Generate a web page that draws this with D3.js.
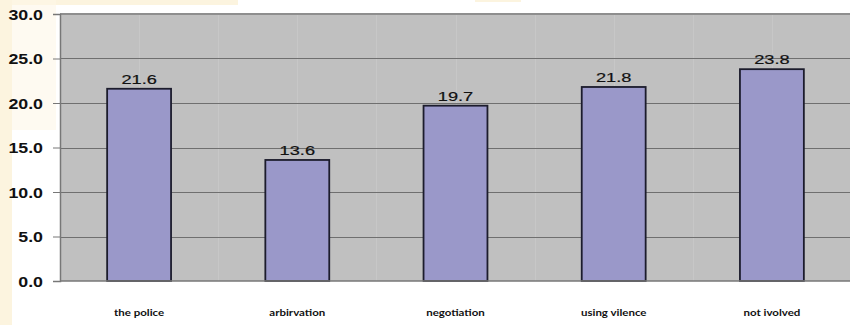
<!DOCTYPE html>
<html>
<head>
<meta charset="utf-8">
<script src="https://cdn.jsdelivr.net/npm/d3@7/dist/d3.min.js"></script>
<style>
  html, body { margin: 0; padding: 0; background: #ffffff; }
  svg { display: block; }
</style>
</head>
<body>
<svg id="chart" width="850" height="325"></svg>
<script>
// Responses per way of handling a conflict (%)
const categories = ["the police", "arbirvation", "negotiation", "using vilence", "not ivolved"];
const values = [21.6, 13.6, 19.7, 21.8, 23.8];
const yTicks = [0, 5, 10, 15, 20, 25, 30];

const W = 850, H = 325;
const plot = { left: 60, right: 851, top: 14, bottom: 281 };

const svg = d3.select("#chart");

// page background: cream margin on the left and a cream strip along the top
const deco = svg.append("g");
deco.append("rect").attr("x", 0).attr("y", 0).attr("width", W).attr("height", H).attr("fill", "#ffffff");
deco.append("rect").attr("x", 0).attr("y", 0).attr("width", 12).attr("height", H).attr("fill", "#fcf4df");
deco.append("rect").attr("x", 0).attr("y", 0).attr("width", 238).attr("height", 5).attr("fill", "#fcf4df");
deco.append("rect").attr("x", 475).attr("y", 0).attr("width", 46).attr("height", 2).attr("fill", "#fcf4df");
deco.append("rect").attr("x", 12).attr("y", 0).attr("width", 44).attr("height", 130).attr("fill", "#fdf7e8").attr("opacity", 0.6);

const x = d3.scaleBand()
  .domain(categories)
  .range([plot.left, plot.right])
  .paddingInner(0.596)
  .paddingOuter(0.298);

const y = d3.scaleLinear()
  .domain([0, 30])
  .range([plot.bottom, plot.top]);

// plot area
svg.append("rect")
  .attr("x", plot.left).attr("y", plot.top)
  .attr("width", plot.right - plot.left).attr("height", plot.bottom - plot.top)
  .attr("fill", "#c0c0c0");

// faint vertical seams at band centres and band edges
const step = x.step();
const seams = [];
categories.forEach(c => {
  seams.push(x(c) + x.bandwidth() / 2);
  seams.push(x(c) + x.bandwidth() / 2 + step / 2);
});
svg.append("g").selectAll("line").data(seams.filter(s => s < plot.right - 2)).join("line")
  .attr("x1", d => Math.round(d) + 0.5).attr("x2", d => Math.round(d) + 0.5)
  .attr("y1", plot.top).attr("y2", plot.bottom)
  .attr("stroke", "#c7c7c7").attr("stroke-width", 1);

// horizontal gridlines
svg.append("g").selectAll("line").data(yTicks.filter(t => t > 0 && t < 30)).join("line")
  .attr("x1", plot.left).attr("x2", plot.right)
  .attr("y1", d => Math.round(y(d)) + 0.5).attr("y2", d => Math.round(y(d)) + 0.5)
  .attr("stroke", "#6f6f6f").attr("stroke-width", 1);

// top frame line
svg.append("line")
  .attr("x1", plot.left).attr("x2", plot.right)
  .attr("y1", plot.top).attr("y2", plot.top)
  .attr("stroke", "#8e8e8e").attr("stroke-width", 2);

// y axis
const yAxis = d3.axisLeft(y).tickValues(yTicks).tickSize(7).tickFormat(d3.format(".1f"));
const ya = svg.append("g")
  .attr("transform", `translate(${plot.left},0)`)
  .call(yAxis);
ya.select(".domain").attr("stroke", "#777777").attr("stroke-width", 1.5);
ya.selectAll(".tick line").attr("stroke", "#777777");
ya.selectAll(".tick text").each(function () {
  const t = d3.select(this);
  const txt = t.text();
  const g = d3.select(this.parentNode).append("g")
    .attr("transform", `translate(-17,0) scale(1.27,1)`);
  g.append("text")
    .attr("x", 0).attr("dy", "0.36em")
    .attr("text-anchor", "end")
    .attr("font-family", "'Liberation Sans', Arial, sans-serif")
    .attr("font-weight", "bold")
    .attr("font-size", 14)
    .attr("fill", "#111111")
    .text(txt);
  t.remove();
});

// bars
svg.append("g").selectAll("rect").data(values).join("rect")
  .attr("x", (d, i) => x(categories[i]))
  .attr("y", d => y(d))
  .attr("width", x.bandwidth())
  .attr("height", d => y(0) - y(d))
  .attr("fill", "#9a98c9")
  .attr("stroke", "#1c1c2c")
  .attr("stroke-width", 1.8);

// baseline
svg.append("line")
  .attr("x1", plot.left).attr("x2", plot.right)
  .attr("y1", plot.bottom).attr("y2", plot.bottom)
  .attr("stroke", "#777777").attr("stroke-width", 1.5);

// value labels
const fmt = d3.format(".1f");
svg.append("g").selectAll("g").data(values).join("g")
  .attr("transform", (d, i) => `translate(${x(categories[i]) + x.bandwidth() / 2},${y(d) - 5}) scale(1.4,1)`)
  .append("text")
  .attr("text-anchor", "middle")
  .attr("font-family", "'Liberation Sans', Arial, sans-serif")
  .attr("font-size", 13)
  .attr("fill", "#111111")
  .attr("stroke", "#111111")
  .attr("stroke-width", 0.2)
  .text(d => fmt(d));

// category labels
svg.append("g").selectAll("g").data(categories).join("g")
  .attr("transform", d => `translate(${x(d) + x.bandwidth() / 2},${316}) scale(1.15,1)`)
  .append("text")
  .attr("text-anchor", "middle")
  .attr("font-family", "Lato, 'Open Sans', sans-serif")
  .attr("font-weight", "bold")
  .attr("font-size", 10)
  .attr("fill", "#111111")
  .text(d => d);
</script>
</body>
</html>
